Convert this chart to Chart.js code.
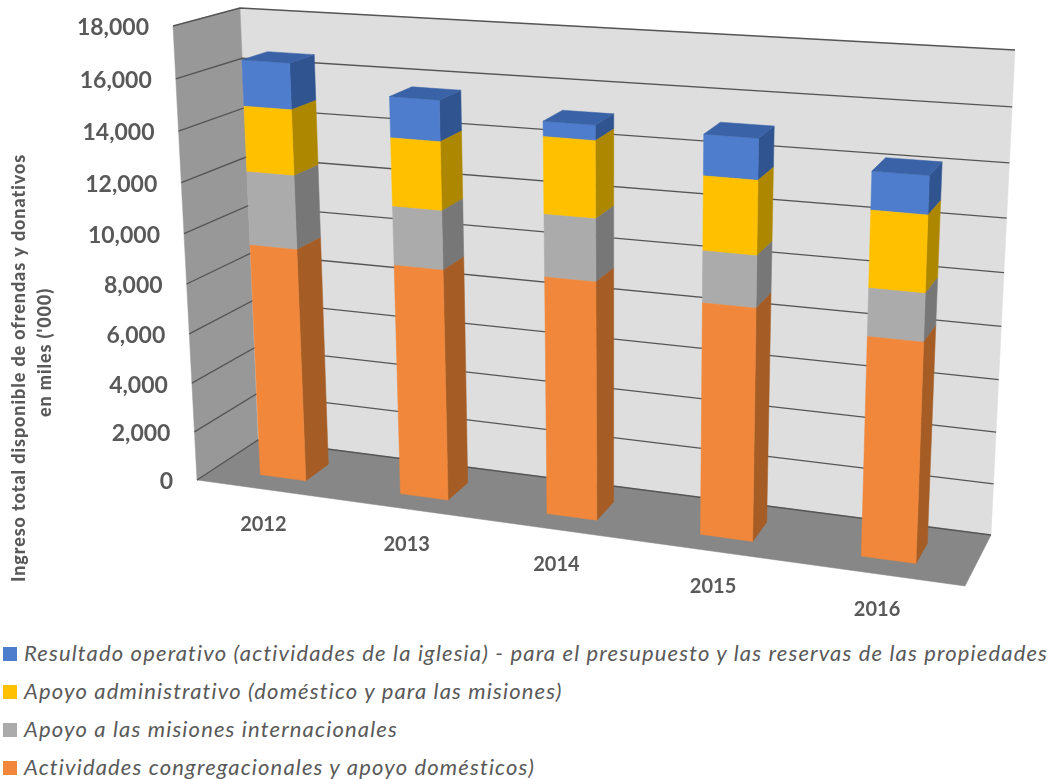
<!DOCTYPE html>
<html lang="es">
<head>
<meta charset="utf-8">
<title>Ingreso total disponible</title>
<script src="https://cdn.jsdelivr.net/npm/chart.js@4"></script>
<style>
    body { margin: 0; background: #fff; width: 1051px; height: 779px; overflow: hidden; position: relative; font-family: Lato, sans-serif; }
    canvas { display: block; }
    #leyenda { position: absolute; left: 3px; top: 634px; margin: 0; padding: 0; list-style: none; }
    #leyenda li { height: 38px; line-height: 38px; white-space: nowrap; font-style: italic; font-size: 22px; letter-spacing: 1.15px; color: #595959; }
    #leyenda span { display: inline-block; width: 14px; height: 14px; margin-right: 7px; }
</style>
</head>
<body>
<canvas id="grafica" width="1051" height="634"></canvas>
<ul id="leyenda"></ul>
<script>
const anios = ['2012', '2013', '2014', '2015', '2016'];
const actividades = [9400, 9170, 9300, 8920, 8300];
const misiones = [2900, 2280, 2380, 1940, 1770];
const administrativo = [2550, 2630, 2900, 2750, 2810];
const resultado = [1780, 1560, 570, 1510, 1390];
const ticksEje = { min: 0, max: 18000, paso: 2000 };

// Esquinas de la caja 3D: plano frontal y plano del fondo (sup-izq, sup-der, inf-der, inf-izq)
const planoFrente = [[173, 26], [984, 81], [965, 586], [197, 480]];
const planoFondo = [[240, 8], [1015, 50], [991, 535], [258, 440]];
const profBarra = [0.29, 0.69];

function crearHomografia(q) {
    const [x0, y0] = q[0], [x1, y1] = q[1], [x2, y2] = q[2], [x3, y3] = q[3];
    const dx1 = x1 - x2, dx2 = x3 - x2, sx = x0 - x1 + x2 - x3;
    const dy1 = y1 - y2, dy2 = y3 - y2, sy = y0 - y1 + y2 - y3;
    const den = dx1 * dy2 - dx2 * dy1;
    const g = (sx * dy2 - dx2 * sy) / den;
    const h = (dx1 * sy - sx * dy1) / den;
    return (u, v) => {
        const w = g * u + h * v + 1;
        return [
            ((x1 - x0 + g * x1) * u + (x3 - x0 + h * x3) * v + x0) / w,
            ((y1 - y0 + g * y1) * u + (y3 - y0 + h * y3) * v + y0) / w
        ];
    };
}
const frente = crearHomografia(planoFrente);
const fondo = crearHomografia(planoFondo);

// Pasa un pixel plano del chartArea a la vista 3D, con profundidad d (0 frente, 1 fondo)
function proyectar(chart, px, py, d) {
    const a = chart.chartArea;
    const u = (px - a.left) / (a.right - a.left);
    const v = (py - a.top) / (a.bottom - a.top);
    const f = frente(u, v), b = fondo(u, v);
    return [f[0] + (b[0] - f[0]) * d, f[1] + (b[1] - f[1]) * d];
}

function poligono(ctx, puntos, color) {
    ctx.beginPath();
    puntos.forEach((p, i) => i ? ctx.lineTo(p[0], p[1]) : ctx.moveTo(p[0], p[1]));
    ctx.closePath();
    ctx.fillStyle = color;
    ctx.fill();
    ctx.strokeStyle = color;
    ctx.lineWidth = 0.5;
    ctx.stroke();
}

const vista3d = {
    id: 'vista3d',
    beforeDraw(chart) {
        // El titulo del eje se ve mas espaciado en el original
        chart.ctx.letterSpacing = '0.9px';
    },
    beforeDatasetsDraw(chart) {
        const ctx = chart.ctx, a = chart.chartArea, y = chart.scales.y, x = chart.scales.x;
        const P = (px, py, d) => proyectar(chart, px, py, d);
        ctx.letterSpacing = '0px';
        // Paredes y piso
        poligono(ctx, [P(a.left, a.top, 1), P(a.right, a.top, 1), P(a.right, a.bottom, 1), P(a.left, a.bottom, 1)], '#dedede');
        poligono(ctx, [P(a.left, a.top, 0), P(a.left, a.top, 1), P(a.left, a.bottom, 1), P(a.left, a.bottom, 0)], '#989898');
        poligono(ctx, [P(a.left, a.bottom, 0), P(a.left, a.bottom, 1), P(a.right, a.bottom, 1), P(a.right, a.bottom, 0)], '#878787');
        // Lineas de division
        y.ticks.forEach(t => {
            const py = y.getPixelForValue(t.value);
            const l0 = P(a.left, py, 0), l1 = P(a.left, py, 1), l2 = P(a.right, py, 1);
            ctx.beginPath();
            ctx.moveTo(l0[0], l0[1]);
            ctx.lineTo(l1[0], l1[1]);
            ctx.lineTo(l2[0], l2[1]);
            ctx.strokeStyle = '#555555';
            ctx.lineWidth = 1.3;
            ctx.stroke();
            // Etiqueta del eje Y
            ctx.font = 'bold 23px Lato';
            ctx.fillStyle = '#595959';
            ctx.textAlign = 'right';
            ctx.textBaseline = 'middle';
            ctx.fillText(t.label, l0[0] - 24, l0[1] + 2);
        });
        // Etiquetas del eje X
        ctx.font = 'bold 20px Lato';
        ctx.textAlign = 'center';
        x.ticks.forEach((t, i) => {
            const b = P(x.getPixelForValue(i), a.bottom, 0);
            ctx.fillText(anios[i], b[0] - 3, b[1] + 35);
        });
    },
    beforeDatasetDraw(chart, args) {
        // Dibujamos la barra nosotros con sus caras, usando la geometria de Chart.js
        const ctx = chart.ctx, ds = chart.data.datasets[args.index];
        const ultimo = args.index === chart.data.datasets.length - 1;
        args.meta.data.forEach(el => {
            const izq = el.x - el.width / 2, der = el.x + el.width / 2;
            const [d0, d1] = profBarra;
            const P = (px, py, d) => proyectar(chart, px, py, d);
            poligono(ctx, [P(der, el.y, d0), P(der, el.y, d1), P(der, el.base, d1), P(der, el.base, d0)], ds.colorLado);
            poligono(ctx, [P(izq, el.y, d0), P(der, el.y, d0), P(der, el.base, d0), P(izq, el.base, d0)], ds.backgroundColor);
            if (ultimo) {
                poligono(ctx, [P(izq, el.y, d0), P(izq, el.y, d1), P(der, el.y, d1), P(der, el.y, d0)], ds.colorTapa);
            }
        });
        return false;
    }
};

new Chart(document.getElementById('grafica'), {
    type: 'bar',
    data: {
        labels: anios,
        datasets: [
            { label: 'Actividades congregacionales y apoyo domésticos)', data: actividades, backgroundColor: '#f0873a', colorLado: '#a55d25' },
            { label: 'Apoyo a las misiones internacionales', data: misiones, backgroundColor: '#ababab', colorLado: '#777777' },
            { label: 'Apoyo administrativo (doméstico y para las misiones)', data: administrativo, backgroundColor: '#ffc000', colorLado: '#ae8700' },
            { label: 'Resultado operativo (actividades de la iglesia) - para el presupuesto y las reservas de las propiedades', data: resultado, backgroundColor: '#4f7dcd', colorLado: '#305490', colorTapa: '#3a62a6' }
        ]
    },
    options: {
        responsive: false,
        animation: false,
        barPercentage: 0.33,
        categoryPercentage: 1,
        layout: { padding: { top: 164, bottom: 54, left: 3, right: 10 } },
        plugins: { legend: { display: false }, tooltip: { enabled: false } },
        scales: {
            x: { stacked: true, grid: { display: false }, border: { display: false }, ticks: { display: false } },
            y: {
                stacked: true,
                min: ticksEje.min,
                max: ticksEje.max,
                grid: { display: false },
                border: { display: false },
                ticks: { stepSize: ticksEje.paso, display: false },
                title: {
                    display: true,
                    text: ['Ingreso total disponible de ofrendas y donativos', "      en miles ('000)"],
                    color: '#595959',
                    font: { family: 'Lato', weight: '900', size: 18, lineHeight: 1.4 }
                }
            }
        }
    },
    plugins: [vista3d]
});

// Leyenda en HTML, en orden inverso como el original
const leyenda = document.getElementById('leyenda');
[
    { label: 'Resultado operativo (actividades de la iglesia) - para el presupuesto y las reservas de las propiedades', color: '#4f7dcd' },
    { label: 'Apoyo administrativo (doméstico y para las misiones)', color: '#ffc000' },
    { label: 'Apoyo a las misiones internacionales', color: '#ababab' },
    { label: 'Actividades congregacionales y apoyo domésticos)', color: '#f0873a' }
].forEach(s => {
    const li = document.createElement('li');
    const cuadro = document.createElement('span');
    cuadro.style.background = s.color;
    li.appendChild(cuadro);
    li.appendChild(document.createTextNode(s.label));
    leyenda.appendChild(li);
});
</script>
</body>
</html>
